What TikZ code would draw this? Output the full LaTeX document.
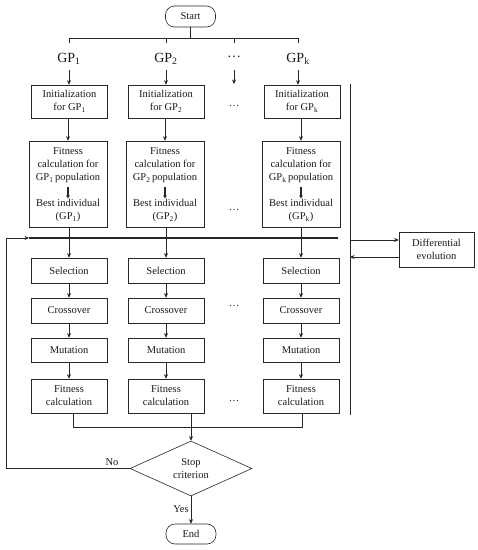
\documentclass[tikz,border=0pt]{standalone}
\usepackage{fontspec}
\setmainfont{Liberation Serif}
\usetikzlibrary{arrows.meta,shapes.geometric}
\newcommand{\sbs}[1]{\textsubscript{#1}}
\begin{document}
\begin{tikzpicture}[x=1pt,y=-1pt,
  line width=0.6pt, draw=black!85,
  txt/.style={font=\fontsize{10.5}{13}\selectfont, align=center, inner sep=0pt, text=black!90},
  box/.style={txt, draw, minimum width=76pt},
  fbox/.style={draw, minimum width=78pt, minimum height=86pt, inner sep=0pt},
  term/.style={txt, draw, rounded corners=9pt, minimum width=50pt, minimum height=21pt},
  gp/.style={font=\fontsize{14}{16}\selectfont, inner sep=0pt, text=black!90},
  arr/.style={-{Stealth[length=4.5pt,width=4pt]}},
  dots/.style={txt}
]
\useasboundingbox (0,0) rectangle (478,550);
% columns: 69, 166, 301 ; dots at 234
\node[term] (start) at (190.5,16.5) {Start};
\coordinate (hb) at (190.5,38);
\coordinate (t1) at (69,38);
\coordinate (t2) at (166,38);
\coordinate (t3) at (234,38);
\coordinate (t4) at (298,38);
\draw (start.south) -- (hb);
\draw (t1) -- (t4);
\draw (t1) -- ++(0,5);
\draw (t2) -- ++(0,5);
\draw (t3) -- ++(0,5);
\draw (t4) -- ++(0,5);

\node[gp] (g1) at (69,59) {GP\sbs{1}};
\node[gp] (g2) at (166,59) {GP\sbs{2}};
\node[gp] (g3) at (234,57) {\ldots};
\node[gp] (g4) at (298,59) {GP\sbs{k}};

% Init boxes
\node[box, minimum height=33pt] (i1) at (69.5,101.5) {Initialization\\for GP\sbs{1}};
\node[box, minimum height=33pt] (i2) at (166,101.5) {Initialization\\for GP\sbs{2}};
\node[box, minimum height=33pt] (i4) at (302,101.5) {Initialization\\for GP\sbs{k}};
\node[dots] (d1) at (234,106) {\ldots};

\draw[arr] (69,70) -- (i1.north -| 69,0);
\draw[arr] (166,70) -- (i2.north);
\coordinate (da) at (234,70);
\coordinate (db) at (234,84);
\draw[arr] (da) -- (db);
\draw[arr] (298,70) -- (i4.north -| 298,0);

% Fitness boxes
\node[fbox] (f1) at (68,184) {};
\node[fbox] (f2) at (165,184) {};
\node[fbox] (f4) at (301,184) {};
\foreach \n/\x/\s in {1/68/1, 2/165/2, 4/301/k}{
  \node[txt] (ft\n) at (\x,165) {Fitness\\calculation for\\GP\sbs{\s}\,population};
  \node[txt] (fb\n) at (\x,210.5) {Best individual\\(GP\sbs{\s})};
  \draw[line width=2pt, -{Stealth[length=2.5pt,width=4pt]}] (\x,187) -- (\x,198);
}
\node[dots] (d2) at (234,210) {\ldots};

\draw[arr] (i1.south -| 68,0) -- (f1.north);
\draw[arr] (i2.south -| 165,0) -- (f2.north);
\draw[arr] (i4.south -| 301,0) -- (f4.north);

% thick line
\coordinate (tl) at (29,238);
\coordinate (tr) at (338,238);
\draw[line width=1.4pt] (tl) -- (tr);

% vertical line and DE
\coordinate (vt) at (350,84);
\coordinate (vb) at (350,415);
\draw (vt) -- (vb);
\node[box, minimum width=75pt, minimum height=35pt] (de) at (436.5,249.5) {Differential\\evolution};
\coordinate (v1) at (350,240);
\coordinate (v2) at (350,257);
\draw[arr] (v1) -- (v1 -| de.west);
\draw[arr] (de.west |- v2) -- (v2);

% lower boxes
\foreach \n/\x in {1/69, 2/166, 4/301}{
  \node[box, minimum height=25pt] (s\n) at (\x,270.5) {Selection};
  \node[box, minimum height=25pt] (c\n) at (\x,310.5) {Crossover};
  \node[box, minimum height=24pt] (m\n) at (\x,350) {Mutation};
  \node[box, minimum height=34pt] (k\n) at (\x,396) {Fitness\\calculation};
  \draw[arr] (s\n) -- (c\n);
  \draw[arr] (c\n) -- (m\n);
  \draw[arr] (m\n) -- (k\n);
}
\draw[arr] (f1.south -| 69,0) -- (s1.north);
\draw[arr] (f2.south -| 166,0) -- (s2.north);
\draw[arr] (f4.south -| 301,0) -- (s4.north);
\node[dots] (d3) at (234,306) {\ldots};
\node[dots] (d4) at (234,401) {\ldots};

% stop criterion
\node[txt, draw, diamond, shape aspect=2.2, minimum width=122pt, minimum height=55pt] (st) at (191,468.5) {Stop\\criterion};
\coordinate (ml) at (73,427);
\coordinate (mr) at (302,427);
\draw (k1.south -| ml) -- (ml) -- (mr) -- (k4.south -| mr);
\draw[arr] (k2.south -| st.north) -- (st.north);

\node[term, minimum height=20pt] (end) at (191,534) {End};
\draw[arr] (st.south) -- (end.north);
\node[txt] (yes) at (181,509) {Yes};

\coordinate (lb) at (6,468.5);
\coordinate (lt) at (6,238);
\draw[arr] (st.west) -- (lb) -- (lt) -- (tl);
\node[txt] (no) at (112,462) {No};
\end{tikzpicture}
\end{document}
